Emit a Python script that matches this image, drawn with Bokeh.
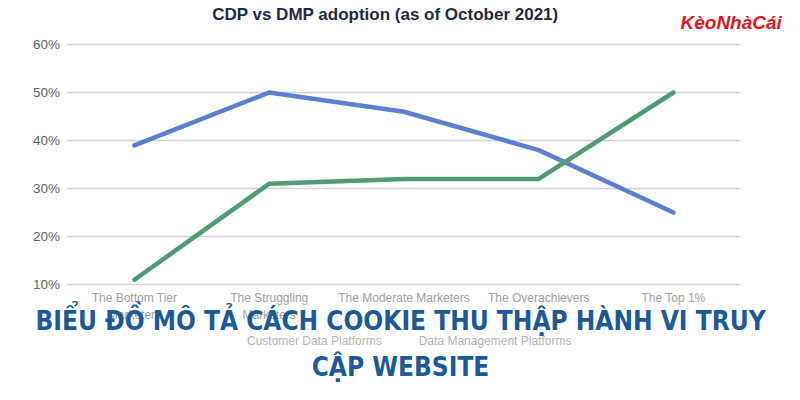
from bokeh.plotting import figure
from bokeh.models import Range1d, Label, Legend, LegendItem
from bokeh.embed import file_html
from bokeh.resources import INLINE

categories = ["The Bottom Tier\nMarketers", "The Struggling\nMarketers", "The Moderate Marketers",
              "The Overachievers", "The Top 1%"]
cdp_values = [11, 31, 32, 32, 50]   # Customer Data Platforms (%)
dmp_values = [39, 50, 46, 38, 25]   # Data Management Platforms (%)
y_ticks = [10, 20, 30, 40, 50, 60]

title_text = "CDP vs DMP adoption (as of October 2021)"
banner_line1 = "BIỂU ĐỒ MÔ TẢ CÁCH COOKIE THU THẬP HÀNH VI TRUY"
banner_line2 = "CẬP WEBSITE"
logo_text = "KèoNhàCái"
legend_labels = ["Customer Data Platforms", "Data Management Platforms"]

BLUE = "#5b7fd2"
GREEN = "#4f9b74"

W, H = 784, 384
# category index positions; the whole canvas is the plot frame so that overlay texts are not clipped
xs = list(range(len(categories)))
n = len(categories)
p = figure(width=W, height=H, output_backend="svg", toolbar_location=None,
           x_range=Range1d(-0.994, 4.824), y_range=Range1d(-10.83, 69.17),
           min_border=0)
p.outline_line_color = None
p.background_fill_color = "white"
p.border_fill_color = "white"
p.axis.visible = False
p.grid.visible = False

# horizontal grid lines across the category band
p.segment(x0=[-0.5] * len(y_ticks), x1=[n - 0.5] * len(y_ticks), y0=y_ticks, y1=y_ticks,
          line_color="#d2d2d2", line_width=1.5)

# y tick labels
p.text(x=[-0.5] * len(y_ticks), y=y_ticks, text=[f"{t}%" for t in y_ticks],
       x_offset=-7, text_align="right", text_baseline="middle",
       text_font={"value": "Liberation Sans"}, text_font_size="13.5px", text_color="#5f5f5f")

# x tick labels
p.text(x=xs, y=[y_ticks[0]] * n, text=categories, y_offset=6,
       text_align="center", text_baseline="top", text_line_height=1.25,
       text_font={"value": "Liberation Sans"}, text_font_size="12px", text_color="#a0a0a0")

p.line(xs, dmp_values, line_color=BLUE, line_width=4.5, line_cap="round", line_join="round")
p.line(xs, cdp_values, line_color=GREEN, line_width=4.5, line_cap="round", line_join="round")

# legend markers
r_cdp = p.scatter([], [], marker="circle", size=11, fill_color="#cfe6da", line_color=None)
r_dmp = p.scatter([], [], marker="circle", size=11, fill_color="#d5def3", line_color=None)
legend = Legend(items=[LegendItem(label=legend_labels[0], renderers=[r_cdp]),
                       LegendItem(label=legend_labels[1], renderers=[r_dmp])],
                orientation="horizontal", location=(228, 33), border_line_color=None,
                background_fill_alpha=0, label_text_font="Liberation Sans",
                label_text_font_size="12px", label_text_color="#b5b5b5", spacing=18,
                glyph_width=14, padding=2, margin=0)
p.add_layout(legend, "center")

# title
p.add_layout(Label(x=385, y=H - 14, x_units="screen", y_units="screen", text=title_text,
                   text_font="Liberation Sans", text_font_style="bold", text_font_size="17px",
                   text_color="#1f2a44", text_align="center", text_baseline="middle"))

# logo
p.add_layout(Label(x=680, y=H - 22, x_units="screen", y_units="screen", text=logo_text,
                   text_font="Liberation Sans", text_font_style="bold italic", text_font_size="19px",
                   text_color="#e0141e", text_align="left", text_baseline="middle"))

# banner overlay
for txt, yy in ((banner_line1, H - 320), (banner_line2, H - 366)):
    p.add_layout(Label(x=400, y=yy, x_units="screen", y_units="screen", text=txt,
                       text_font="DejaVu Sans Condensed", text_font_style="bold",
                       text_font_size="26px", text_color="#1c5a97",
                       text_align="center", text_baseline="middle"))

open("out.html", "w").write(file_html(p, INLINE))
